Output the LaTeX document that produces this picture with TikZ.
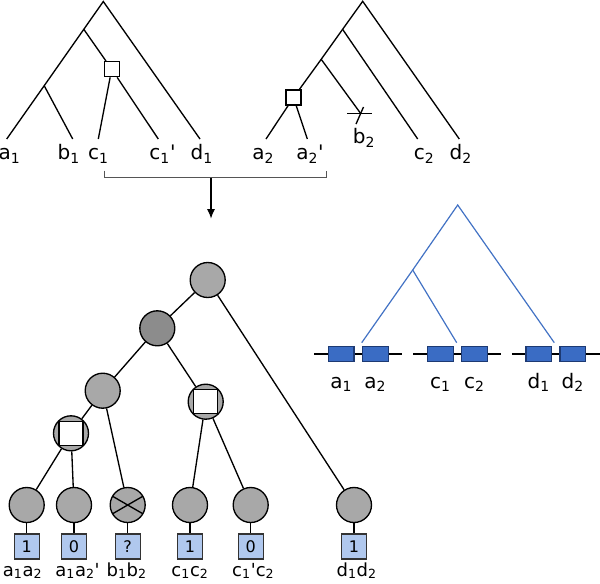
\documentclass[tikz,border=0pt]{standalone}
\usepackage{fontspec}
\setmainfont{DejaVu Sans}[Ligatures=TeXOff]
\usepackage{xcolor}
\usetikzlibrary{arrows.meta}

\definecolor{nodegray}{HTML}{A8A8A8}
\definecolor{darkgray}{HTML}{8C8C8C}
\definecolor{valblue}{HTML}{B0C8EE}
\definecolor{geneblue}{HTML}{3A6CC4}
\definecolor{genedark}{HTML}{1D3A73}
\definecolor{treeblue}{HTML}{4272C4}
\definecolor{bracketgray}{HTML}{555555}

\tikzset{
  lbl/.style={anchor=base, inner sep=0pt, font=\fontsize{15}{18}\selectfont},
  pairlbl/.style={lbl, font=\fontsize{13.5}{16}\selectfont},
  dupsq/.style={draw, fill=white, minimum size=11.25pt, inner sep=0pt},
  gn/.style={circle, draw, fill=nodegray, minimum size=26.25pt, inner sep=0pt},
  dgn/.style={gn, fill=darkgray},
  dupgn/.style={gn, path picture={
    \draw[fill=white] ([shift={(-9pt,-9pt)}]path picture bounding box.center)
      rectangle ([shift={(9pt,9pt)}]path picture bounding box.center);}},
  lossgn/.style={gn, path picture={
    \draw ([shift={(150:14pt)}]path picture bounding box.center)
      -- ([shift={(-30:14pt)}]path picture bounding box.center);
    \draw ([shift={(210:14pt)}]path picture bounding box.center)
      -- ([shift={(30:14pt)}]path picture bounding box.center);}},
  valbox/.style={draw=black!80, fill=valblue, minimum size=18.75pt, inner sep=0pt,
    font=\fontsize{12}{14}\selectfont},
  gene/.style={draw=genedark, fill=geneblue, minimum width=19.3pt, minimum height=11.25pt, inner sep=0pt}
}

\begin{document}
\begin{tikzpicture}[x=0.75pt, y=-0.75pt, line width=1pt]
  \useasboundingbox (0,0) rectangle (600,583);

  % Gene tree 1
  \coordinate (r1) at (103.3,1.5);
  \coordinate (r1u) at (83.8,29.3);
  \coordinate (r1ab) at (44.2,85.7);
  \node[dupsq] (r1dup) at (111.7,69.2) {};
  \coordinate (ea1) at (6.7,139);
  \coordinate (eb1) at (72.7,139);
  \coordinate (ec1) at (98.3,139);
  \coordinate (ec1p) at (158.3,139);
  \coordinate (ed1) at (200,139);
  \draw (ed1) -- (r1) -- (r1u) -- (r1ab) -- (ea1);
  \draw (r1ab) -- (eb1);
  \draw (r1u) -- (r1dup);
  \draw (r1dup) -- (ec1);
  \draw (r1dup) -- (ec1p);
  \node[lbl] (la1) at (9.5,159.5) {a\textsubscript{1}};
  \node[lbl] (lb1) at (68.8,159.5) {b\textsubscript{1}};
  \node[lbl] (lc1) at (98.3,159.5) {c\textsubscript{1}};
  \node[lbl] (lc1p) at (162.5,159.5) {c\textsubscript{1}'};
  \node[lbl] (ld1) at (201.7,159.5) {d\textsubscript{1}};

  % Gene tree 2
  \coordinate (r2) at (362.7,1.3);
  \coordinate (r2u) at (342.6,29.3);
  \coordinate (r2v) at (321.2,59.3);
  \node[dupsq] (r2dup) at (293.5,97.5) {};
  \coordinate (ea2) at (266,139);
  \coordinate (ea2p) at (307.3,139);
  \coordinate (xb2) at (360.7,113.5);
  \coordinate (ec2) at (417.7,139);
  \coordinate (ed2) at (459.3,139);
  \draw (ed2) -- (r2) -- (r2u) -- (r2v) -- (r2dup);
  \draw (r2u) -- (ec2);
  \draw (r2v) -- (xb2);
  \draw (r2dup) -- (ea2);
  \draw (r2dup) -- (ea2p);
  % lost gene
  \draw ([xshift=-10pt]xb2) -- ([xshift=8.7pt]xb2);
  \draw ([shift={(2.1pt,4.9pt)}]xb2) -- ([shift={(-3.5pt,-7.9pt)}]xb2);
  \node[lbl] (la2) at (263.3,159.5) {a\textsubscript{2}};
  \node[lbl] (la2p) at (310,159.5) {a\textsubscript{2}'};
  \node[lbl] (lb2) at (364,143.3) {b\textsubscript{2}};
  \node[lbl] (lc2) at (424.2,159.5) {c\textsubscript{2}};
  \node[lbl] (ld2) at (460.8,159.5) {d\textsubscript{2}};

  % Bracket and arrow
  \coordinate (brL) at (104.3,170.7);
  \coordinate (brR) at (326.7,170.7);
  \coordinate (brA) at (211,177.5);
  \coordinate (brB) at (211,218.5);
  \draw[bracketgray, line width=0.8pt] (brL) |- (brA) -| (brR);
  \draw[line width=0.8pt, -{Latex[length=7pt,width=6pt]}] (brA) -- (brB);

  % Reconciled pair tree
  \node[gn] (p0) at (207.7,280) {};
  \node[dgn] (p1) at (157.3,328.3) {};
  \node[gn] (p2) at (102.7,390.7) {};
  \node[dupgn] (pc) at (205.7,401.7) {};
  \node[dupgn] (pa) at (71,433.3) {};
  \node[gn] (q1) at (26.7,505) {};
  \node[gn] (q2) at (74,505) {};
  \node[lossgn] (q3) at (127.7,505) {};
  \node[gn] (q4) at (190,505) {};
  \node[gn] (q5) at (250.7,505) {};
  \node[gn] (q6) at (354,505) {};
  \draw (p0) -- (p1);
  \draw (p0) -- (q6);
  \draw (p1) -- (p2);
  \draw (p1) -- (pc);
  \draw (p2) -- (pa);
  \draw (p2) -- (q3);
  \draw (pa) -- (q1);
  \draw (pa) -- (q2);
  \draw (pc) -- (q4);
  \draw (pc) -- (q5);

  % Leaf values
  \foreach \n/\v/\x/\t in {1/1/22.5/a\textsubscript{1}a\textsubscript{2},
                           2/0/77.5/a\textsubscript{1}a\textsubscript{2}',
                           3/?/126.7/b\textsubscript{1}b\textsubscript{2},
                           4/1/190/c\textsubscript{1}c\textsubscript{2},
                           5/0/253.3/c\textsubscript{1}'c\textsubscript{2},
                           6/1/356.7/d\textsubscript{1}d\textsubscript{2}} {
    \node[valbox, anchor=north] (v\n) at ([yshift=-7.5pt]q\n.south) {\v};
    \draw (q\n) -- (v\n);
    \node[pairlbl] (t\n) at (\x,576) {\t};
  }

  % Species tree over gene pairs
  \coordinate (g0) at (457.7,205);
  \coordinate (g1) at (412.7,270);
  \coordinate (ga) at (361.7,342.7);
  \coordinate (gc) at (456.7,342.7);
  \coordinate (gd) at (554.3,342.7);
  \draw[treeblue, line width=0.9pt] (gd) -- (g0) -- (g1) -- (ga);
  \draw[treeblue, line width=0.9pt] (g1) -- (gc);

  % Gene pairs
  \foreach \g/\x/\s in {a1/341.2/a\textsubscript{1}, a2/375.3/a\textsubscript{2},
                        c1/440.3/c\textsubscript{1}, c2/474.5/c\textsubscript{2},
                        d1/538.8/d\textsubscript{1}, d2/572.8/d\textsubscript{2}} {
    \node[gene] (n\g) at (\x,354) {};
    \node[lbl] (s\g) at (\x,388) {\s};
  }
  \foreach \p in {a,c,d} {
    \draw ([xshift=-10pt]n\p1.west) -- (n\p1.west) (n\p1.east) -- (n\p2.west)
      (n\p2.east) -- ([xshift=10pt]n\p2.east);
  }
\end{tikzpicture}
\end{document}
